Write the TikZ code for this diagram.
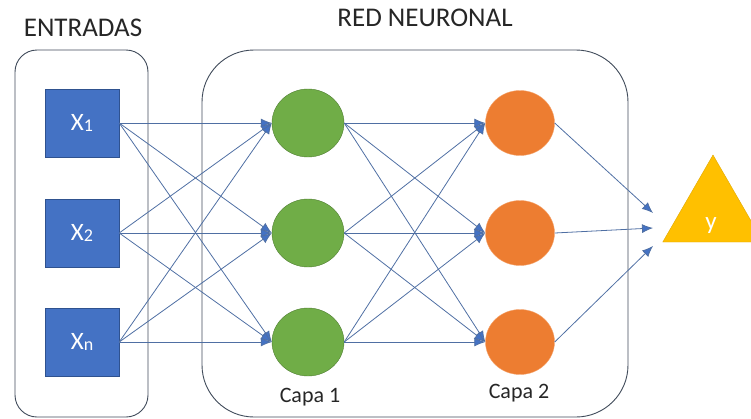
\documentclass[tikz,border=0pt]{standalone}
\usepackage{fontspec}
\setmainfont{Carlito}
\usetikzlibrary{arrows.meta, positioning, shapes.geometric}

\definecolor{azul}{HTML}{4472C4}
\definecolor{azulborde}{HTML}{2F528F}
\definecolor{verde}{HTML}{70AD47}
\definecolor{verdeborde}{HTML}{507E32}
\definecolor{naranja}{HTML}{ED7D31}
\definecolor{naranjaborde}{HTML}{F4A46E}
\definecolor{amarillo}{HTML}{FFC000}
\definecolor{amarilloborde}{HTML}{E0A800}
\definecolor{linea}{HTML}{4F6FA3}
\definecolor{borde}{HTML}{404B5A}

\begin{document}
\begin{tikzpicture}[x=1pt,y=-1pt,
  entrada/.style={rectangle, fill=azul, draw=azulborde, minimum width=74pt, minimum height=68pt, inner sep=0pt, text=white, font=\fontsize{25}{28}\selectfont},
  capauno/.style={ellipse, fill=verde, draw=verdeborde, minimum width=72pt, minimum height=68pt, inner sep=0pt},
  capados/.style={ellipse, fill=naranja, draw=naranjaborde, minimum width=69pt, minimum height=65pt, inner sep=0pt},
  salida/.style={regular polygon, regular polygon sides=3, fill=amarillo, draw=amarilloborde, minimum size=116pt, inner sep=0pt},
  flecha/.style={draw=linea, line width=0.8pt, -{Latex[length=11pt,width=9pt,fill=azul]}},
  caja/.style={draw=borde, line width=0.9pt},
  titulo/.style={font=\fontsize{27}{32}\selectfont, text=black!85},
  capa/.style={font=\fontsize{22}{26}\selectfont, text=black!85}]

\clip (0,0) rectangle (751,418);

% boxes
\draw[caja, rounded corners=22pt] (15,50) rectangle (148,417);
\draw[caja, rounded corners=52pt] (202,50) rectangle (628,417);

\node[titulo] (titent) at (83,28) {ENTRADAS};
\node[titulo] (titred) at (425,18) {RED NEURONAL};

% inputs
\node[entrada] (x1) at (82,123) {X\raisebox{-1pt}{\fontsize{18}{18}\selectfont 1}};
\node[entrada] (x2) at (82,233) {X\raisebox{-1pt}{\fontsize{18}{18}\selectfont 2}};
\node[entrada] (x3) at (82,342) {X\raisebox{-1pt}{\fontsize{18}{18}\selectfont n}};

% layers
\foreach \n/\y in {1/123, 2/233, 3/342}
{
  \node[capauno] (g\n) at (308,\y) {};
  \node[capados] (o\n) at (520,\y) {};
}
\node[capa] (capa1) at (310,397) {Capa 1};
\node[capa] (capa2) at (519,393) {Capa 2};

% output
\node[salida] (y) at (713,213) {};
\node[text=white, font=\fontsize{25}{28}\selectfont] (ytxt) at (711,226) {y};
\coordinate (fin1) at (653,213);
\coordinate (fin2) at (653,228);
\coordinate (fin3) at (653,246);

% connections
\foreach \i in {1,2,3}
\foreach \j in {1,2,3}
{
  \draw[flecha] (x\i.east) -- (g\j.west);
  \draw[flecha] (g\i.east) -- (o\j.west);
}
\foreach \i in {1,2,3}
\draw[flecha] (o\i.east) -- (fin\i);

\end{tikzpicture}
\end{document}
